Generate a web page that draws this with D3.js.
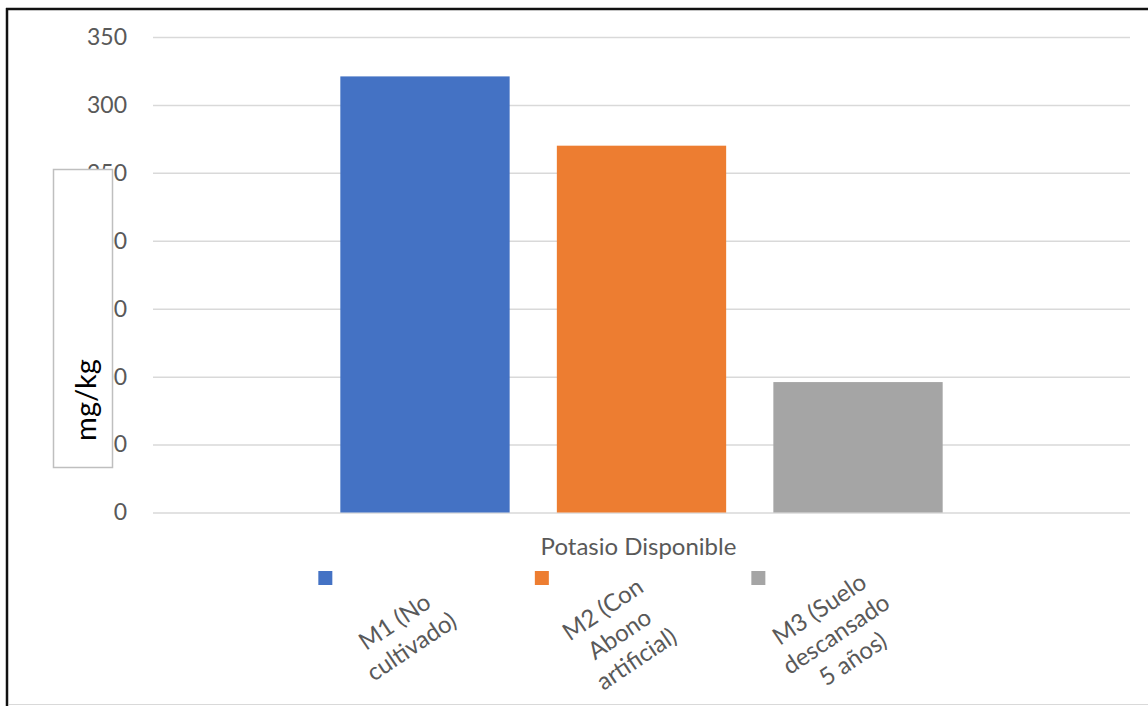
<!DOCTYPE html>
<html>
<head>
<meta charset="utf-8">
<script src="https://cdn.jsdelivr.net/npm/d3@7"></script>
<style>
  html, body { margin: 0; padding: 0; background: #fff; }
  svg { display: block; }
  text { font-family: Lato, "Open Sans", sans-serif; }
</style>
</head>
<body>
<script>
// ---- data ----
const categories = ["Potasio Disponible"];
const seriesNames = ["M1 (No cultivado)", "M2 (Con Abono artificial)", "M3 (Suelo descansado 5 años)"];
const seriesLabelLines = [
  ["M1 (No", "cultivado)"],
  ["M2 (Con", "Abono", "artificial)"],
  ["M3 (Suelo", "descansado", "5 años)"]
];
const values = [321, 270, 96];
const seriesColors = ["#4472C4", "#ED7D31", "#A5A5A5"];
const yTicks = [0, 50, 100, 150, 200, 250, 300, 350];
const yTitle = "mg/kg";

// ---- layout ----
const W = 1148, H = 706;
const plot = { left: 153, right: 1130, top: 37, bottom: 512.5 };

const svg = d3.select("body").append("svg").attr("width", W).attr("height", H);

const y = d3.scaleLinear().domain([0, 350]).range([plot.bottom, plot.top]);
const x0 = d3.scaleBand().domain(categories).range([plot.left, plot.right])
  .paddingInner(0).paddingOuter(0.311);
const x1 = d3.scaleBand().domain(seriesNames).range([0, x0.bandwidth()])
  .paddingInner(0.218).paddingOuter(0);

// frame
svg.append("line").attr("x1", 6).attr("x2", W).attr("y1", 9).attr("y2", 9)
  .attr("stroke", "#111").attr("stroke-width", 2.5);
svg.append("line").attr("x1", 7).attr("x2", 7).attr("y1", 8).attr("y2", H)
  .attr("stroke", "#111").attr("stroke-width", 2.5);
svg.append("line").attr("x1", 9).attr("x2", W).attr("y1", 704.5).attr("y2", 704.5)
  .attr("stroke", "#d9d9d9").attr("stroke-width", 1);

// gridlines + ticks via axis
const yAxis = d3.axisLeft(y).tickValues(yTicks).tickSize(-(plot.right - plot.left)).tickPadding(26);
const gy = svg.append("g").attr("transform", `translate(${plot.left},0)`).call(yAxis);
gy.select(".domain").remove();
gy.selectAll(".tick line").attr("stroke", "#d9d9d9").attr("stroke-width", 1.5);
gy.selectAll(".tick text").attr("fill", "#595959").style("font-size", "23px")
  .style("font-family", "Lato, sans-serif");

// bars
const g = svg.append("g").attr("transform", `translate(${x0(categories[0])},0)`);
g.selectAll("rect").data(values).join("rect")
  .attr("x", (d, i) => x1(seriesNames[i]))
  .attr("width", x1.bandwidth())
  .attr("y", d => y(d))
  .attr("height", d => y(0) - y(d))
  .attr("fill", (d, i) => seriesColors[i]);

// category label
svg.append("text")
  .attr("x", x0(categories[0]) + x0.bandwidth() / 2 - 3)
  .attr("y", 555)
  .attr("text-anchor", "middle")
  .attr("fill", "#595959")
  .style("font-size", "24px")
  .text(categories[0]);

// legend
const lineH = 30;
seriesNames.forEach((s, i) => {
  const bx = x0(categories[0]) + x1(s);
  const cx = bx + x1.bandwidth() / 2;
  svg.append("rect").attr("x", bx - 22).attr("y", 571).attr("width", 14).attr("height", 14)
    .attr("fill", seriesColors[i]);
  const lines = seriesLabelLines[i];
  const lg = svg.append("g").attr("transform", `translate(${cx - 22},634) rotate(-34)`);
  lines.forEach((t, j) => {
    lg.append("text")
      .attr("x", 0)
      .attr("y", (j - (lines.length - 1) / 2) * lineH)
      .attr("dy", "0.35em")
      .attr("text-anchor", "middle")
      .attr("fill", "#595959")
      .style("font-size", "24px")
      .text(t);
  });
});

// y title box
svg.append("rect").attr("x", 53.5).attr("y", 169.5).attr("width", 59).attr("height", 298)
  .attr("fill", "#fff").attr("stroke", "#bfbfbf").attr("stroke-width", 1.5);
svg.append("text")
  .attr("transform", "translate(96,400) rotate(-90)")
  .attr("text-anchor", "middle")
  .attr("fill", "#000")
  .style("font-size", "29px")
  .text(yTitle);
</script>
</body>
</html>
